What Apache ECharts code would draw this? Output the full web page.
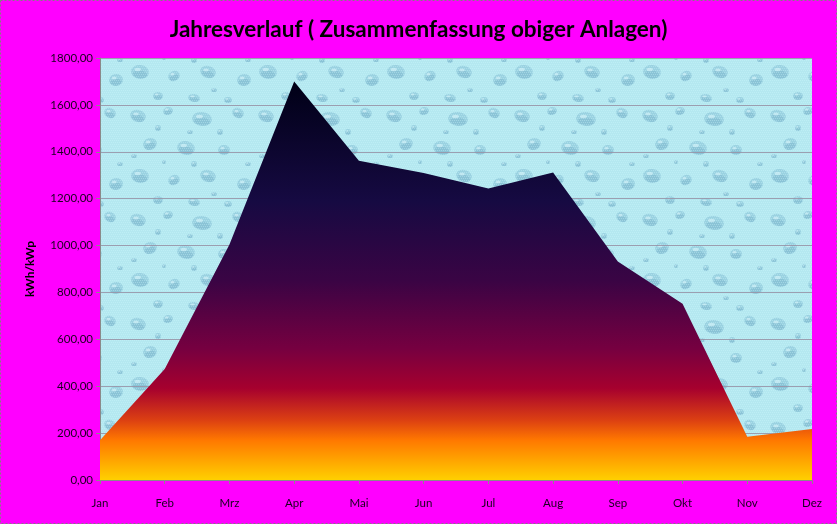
<!DOCTYPE html>
<html><head><meta charset="utf-8">
<script src="https://cdn.jsdelivr.net/npm/echarts@6/dist/echarts.min.js"></script>
<style>html,body{margin:0;padding:0;background:#ff00ff}#c{width:837px;height:524px}</style>
</head><body><div id="c"></div>
<script>
const months = ['Jan','Feb','Mrz','Apr','Mai','Jun','Jul','Aug','Sep','Okt','Nov','Dez'];
const yieldValues = [170, 473, 1005, 1700, 1362, 1310, 1243, 1312, 932, 752, 185, 218];
const yTicks = {min: 0, max: 1800, interval: 200};

// subtle water-drop like texture for plot background
function makeTexture(){
  const c = document.createElement('canvas'); c.width = 128; c.height = 104;
  const g = c.getContext('2d');
  g.fillStyle = '#b4e8f0'; g.fillRect(0,0,128,104);
  const drops = [[10,12,8,6,0.3],[40,7,5,4,-0.2],[74,15,10,7,0.1],[110,9,6,5,0.4],[22,40,7,6,-0.3],[58,44,9,7,0.2],[96,46,6,5,0],
                 [12,72,9,7,0.1],[46,76,6,5,-0.4],[80,72,8,6,0.3],[116,80,7,6,-0.1],[30,96,5,4,0],[66,98,6,4,0.2],[100,100,4,3,0],
                 [30,24,3,3,0],[62,28,3,2,0],[92,28,3,3,0],[6,52,3,2,0],[66,60,3,3,0],[120,60,3,2,0],[36,58,2,2,0],[86,90,3,2,0]];
  drops.forEach(d=>{
    g.fillStyle = 'rgba(120,178,205,0.42)';
    g.beginPath(); g.ellipse(d[0],d[1],d[2],d[3],d[4],0,Math.PI*2); g.fill();
    g.fillStyle = 'rgba(90,150,185,0.25)';
    g.beginPath(); g.ellipse(d[0],d[1]+d[3]*0.35,d[2]*0.8,d[3]*0.55,d[4],0,Math.PI*2); g.fill();
    g.fillStyle = 'rgba(225,250,255,0.55)';
    g.beginPath(); g.ellipse(d[0]-d[2]*0.25,d[1]-d[3]*0.35,d[2]*0.35,d[3]*0.25,0,0,Math.PI*2); g.fill();
  });
  // fine speckle for dithered look
  g.fillStyle = 'rgba(210,250,255,0.35)';
  for (let y = 0; y < 104; y += 2) for (let x = (y/2)%2; x < 128; x += 2) g.fillRect(x, y, 1, 1);
  return c;
}

const chart = echarts.init(document.getElementById('c'), null, {renderer:'canvas'});
chart.setOption({
  backgroundColor: '#ff00ff',
  animation: false,
  title: {
    text: 'Jahresverlauf ( Zusammenfassung obiger Anlagen)',
    left: 'center', top: 13,
    textStyle: {fontFamily: 'Lato', fontWeight: 'bold', fontSize: 22.5, color: '#000000'}
  },
  graphic: [{
    type: 'rect', shape: {x: 0.5, y: 0.5, width: 836, height: 523},
    style: {fill: 'none', stroke: '#808080', lineWidth: 1, lineDash: [2,2]}, silent: true, z: 100
  }],
  grid: {
    left: 100, right: 25, top: 58, bottom: 44, show: true,
    backgroundColor: {image: makeTexture(), repeat: 'repeat'},
    borderWidth: 0
  },
  xAxis: {
    type: 'category', data: months, boundaryGap: false,
    axisLine: {show: true, lineStyle: {color: '#8a8a8a'}},
    axisTick: {show: true, alignWithLabel: true, length: 4, lineStyle: {color: '#8a8a8a'}},
    axisLabel: {fontFamily: 'Lato', fontSize: 11.5, color: '#1a0020', margin: 17}
  },
  yAxis: {
    type: 'value', min: yTicks.min, max: yTicks.max, interval: yTicks.interval,
    name: 'kWh/kWp', nameLocation: 'middle', nameGap: 64, nameRotate: 90,
    nameTextStyle: {fontFamily: 'Lato', fontWeight: 'bold', fontSize: 12, color: '#000000'},
    axisLine: {show: true, lineStyle: {color: '#8a8a8a'}},
    axisTick: {show: true, length: 4, lineStyle: {color: '#8a8a8a'}},
    axisLabel: {fontFamily: 'Lato', fontSize: 11.5, color: '#1a0020', margin: 7,
      formatter: v => v.toFixed(2).replace('.', ',')},
    splitLine: {show: true, lineStyle: {color: 'rgba(150,145,165,0.85)', width: 1}}
  },
  series: [{
    type: 'line', data: yieldValues, symbol: 'none',
    lineStyle: {width: 0},
    areaStyle: {
      opacity: 1,
      color: {type: 'linear', x: 0, y: 0, x2: 0, y2: 1, colorStops: [
        {offset: 0, color: '#000016'},
        {offset: 0.30, color: '#160a42'},
        {offset: 0.50, color: '#3a0444'},
        {offset: 0.67, color: '#760040'},
        {offset: 0.77, color: '#a6002e'},
        {offset: 0.85, color: '#dc4012'},
        {offset: 0.90, color: '#ff7800'},
        {offset: 1, color: '#ffd000'}
      ]}
    },
    z: 3
  }]
});
</script></body></html>
